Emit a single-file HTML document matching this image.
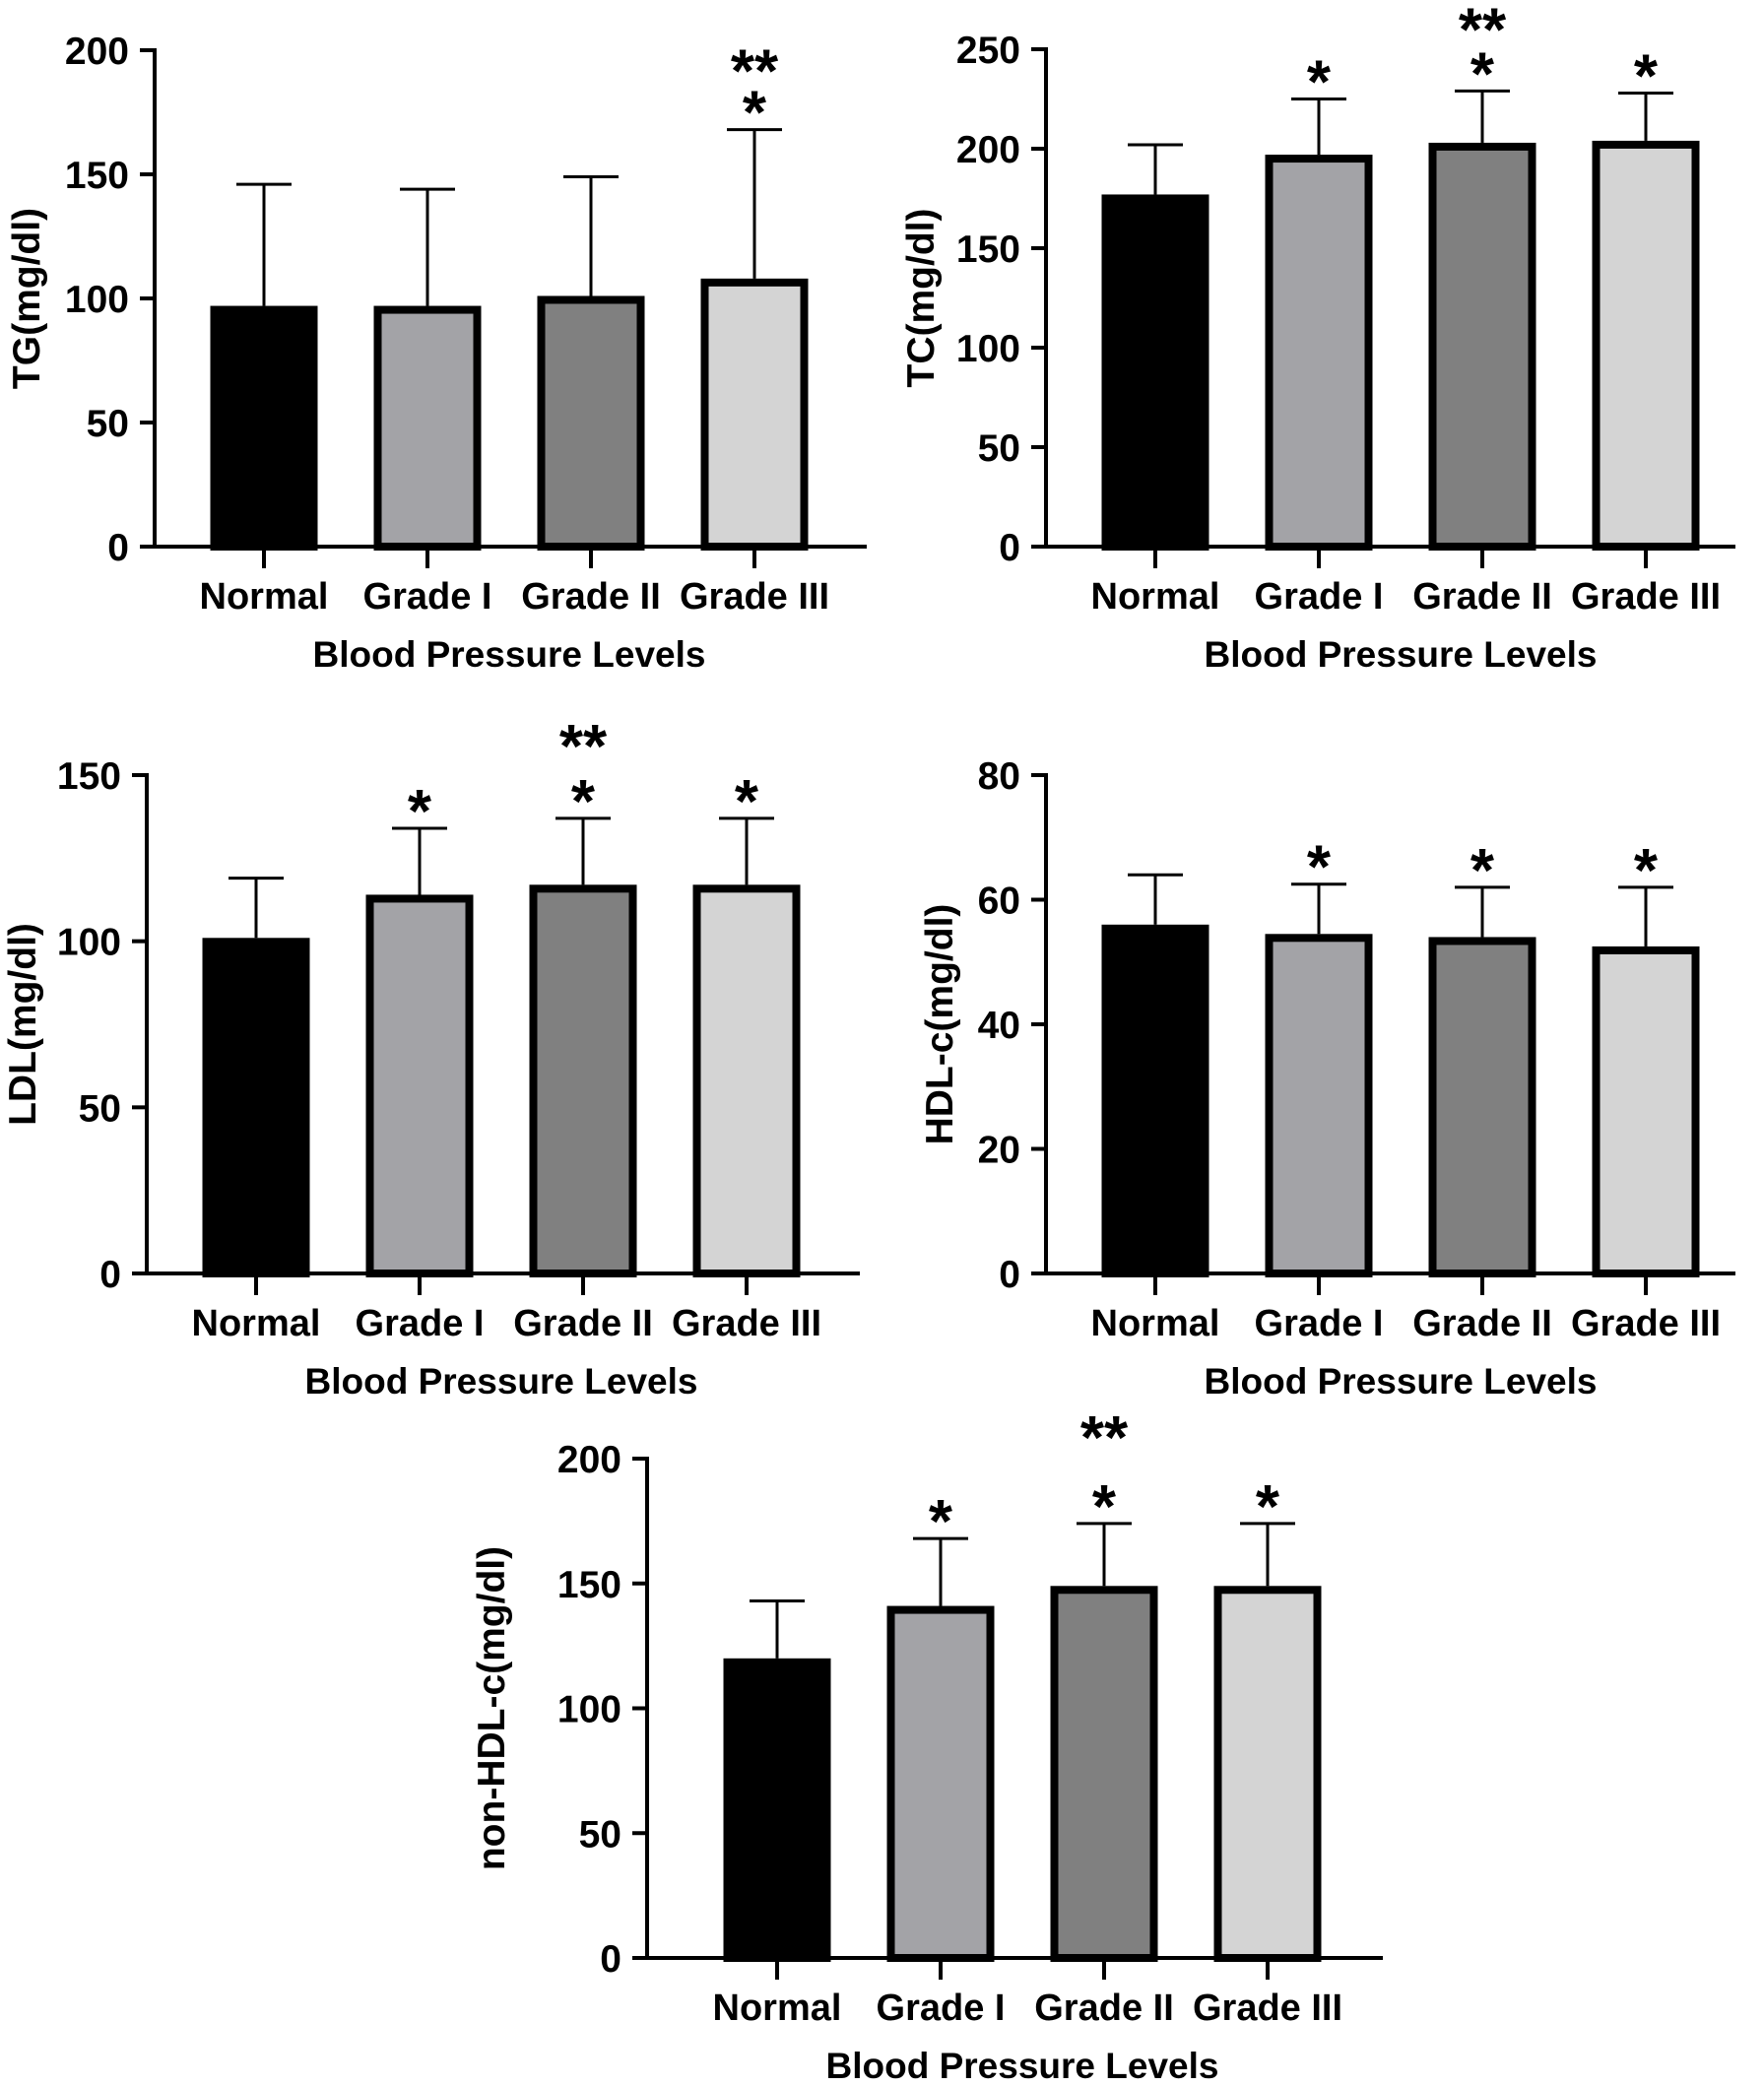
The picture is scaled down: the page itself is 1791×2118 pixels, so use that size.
<!DOCTYPE html>
<html><head><meta charset="utf-8">
<style>
html,body{margin:0;padding:0;background:#fff;}
svg{display:block;font-family:"Liberation Sans",Arial,sans-serif;font-weight:bold;}
</style></head>
<body>
<svg id="fig" width="1791" height="2118" viewBox="0 0 1791 2118" xmlns="http://www.w3.org/2000/svg"></svg>
<script>
const categories = ["Normal","Grade I","Grade II","Grade III"];
const tgMeans = [97, 97, 101, 108];
const tgErrs = [146, 144, 149, 168];
const tcMeans = [177, 197, 203, 204];
const tcErrs = [202, 225, 229, 228];
const ldlMeans = [101, 114, 117, 117];
const ldlErrs = [119, 134, 137, 137];
const hdlMeans = [56, 54.5, 54, 52.5];
const hdlErrs = [64, 62.5, 62, 62];
const nonHdlMeans = [120, 141, 149, 149];
const nonHdlErrs = [143, 168, 174, 174];
const tgTicks = [0,50,100,150,200];
const tcTicks = [0,50,100,150,200,250];
const ldlTicks = [0,50,100,150];
const hdlTicks = [0,20,40,60,80];
const nonHdlTicks = [0,50,100,150,200];
const tgStars = ["","","","*|**"];
const tcStars = ["","*","*|**","*"];
const ldlStars = ["","*","*|**","*"];
const hdlStars = ["","*","*","*"];
const nonHdlStars = ["","*","*|**","*"];

const fills = ["#000000","#a3a3a7","#808080","#d4d4d4"];
const NS = "http://www.w3.org/2000/svg";
const svg = document.getElementById("fig");
function mk(tag, attrs, parent){
  const e = document.createElementNS(NS, tag);
  for (const k in attrs) e.setAttribute(k, attrs[k]);
  (parent||svg).appendChild(e);
  return e;
}
const panels = [
  {key:"tg", label:"TG(mg/dl)", means:tgMeans, errs:tgErrs, ticks:tgTicks, stars:tgStars, ax:157, x1:880, yTop:51, yBot:555, labelX:40, off:111, gap:42},
  {key:"tc", label:"TC(mg/dl)", means:tcMeans, errs:tcErrs, ticks:tcTicks, stars:tcStars, ax:1062, x1:1762, yTop:50, yBot:555, labelX:948, off:111, gap:45},
  {key:"ldl", label:"LDL(mg/dl)", means:ldlMeans, errs:ldlErrs, ticks:ldlTicks, stars:ldlStars, ax:149, x1:873, yTop:787, yBot:1293, labelX:36, off:111, gap:56},
  {key:"hdl", label:"HDL-c(mg/dl)", means:hdlMeans, errs:hdlErrs, ticks:hdlTicks, stars:hdlStars, ax:1062, x1:1762, yTop:787, yBot:1293, labelX:967, off:111, gap:45},
  {key:"nonhdl", label:"non-HDL-c(mg/dl)", means:nonHdlMeans, errs:nonHdlErrs, ticks:nonHdlTicks, stars:nonHdlStars, ax:657, x1:1404, yTop:1481, yBot:1988, labelX:512, off:132, gap:70}
];
panels.forEach(p=>{
  const g = mk("g",{});
  
  
  const maxV = p.ticks[p.ticks.length-1];
  const y = v => p.yBot - (v/maxV)*(p.yBot-p.yTop);
  const step = 166;
  const xc = i => p.ax + p.off + step*i;
  const bw = 109;
  categories.forEach((c,i)=>{
    const top = y(p.means[i]);
    const eb = mk("line",{x1:xc(i),x2:xc(i),y1:y(p.errs[i]),y2:top,stroke:"#000","stroke-width":3},g);
    
    
    const cap = mk("line",{x1:xc(i)-28,x2:xc(i)+28,y1:y(p.errs[i]),y2:y(p.errs[i]),stroke:"#000","stroke-width":3},g);
    
    
    const r = mk("rect",{x:xc(i)-bw/2+4,y:top+4,width:bw-8,height:p.yBot-top-4,fill:fills[i],stroke:"#000","stroke-width":8},g);
    
    
    const parts = p.stars[i] ? p.stars[i].split("|") : [];
    parts.forEach((s,k)=>{
      const t = mk("text",{x:xc(i),y:y(p.errs[i]) + 4 - k*p.gap,"text-anchor":"middle","font-size":62},g);
      t.textContent = s;
      
      
    });
    const xt = mk("line",{x1:xc(i),x2:xc(i),y1:p.yBot,y2:p.yBot+22,stroke:"#000","stroke-width":4},g);
    
    
    const xl = mk("text",{x:xc(i),y:p.yBot+63,"text-anchor":"middle","font-size":38},g);
    xl.textContent = c;
    
    
  });
  const ya = mk("line",{x1:p.ax,x2:p.ax,y1:p.yTop-2,y2:p.yBot+2,stroke:"#000","stroke-width":4},g);
  
  
  const xa = mk("line",{x1:p.ax-2,x2:p.x1,y1:p.yBot,y2:p.yBot,stroke:"#000","stroke-width":4},g);
  
  
  p.ticks.forEach(v=>{
    const tl = mk("line",{x1:p.ax-15,x2:p.ax,y1:y(v),y2:y(v),stroke:"#000","stroke-width":4},g);
    
    
    const tt = mk("text",{x:p.ax-26,y:y(v)+14,"text-anchor":"end","font-size":39},g);
    tt.textContent = v;
    
    
  });
  const cy = (p.yTop+p.yBot)/2;
  const yt = mk("text",{x:p.labelX,y:cy,"text-anchor":"middle","font-size":39,transform:`rotate(-90 ${p.labelX} ${cy})`},g);
  yt.textContent = p.label;
  
  
  const xtt = mk("text",{x:p.ax+p.off+249,y:p.yBot+122,"text-anchor":"middle","font-size":37},g);
  xtt.textContent = "Blood Pressure Levels";
  
  
});
</script>
</body></html>
